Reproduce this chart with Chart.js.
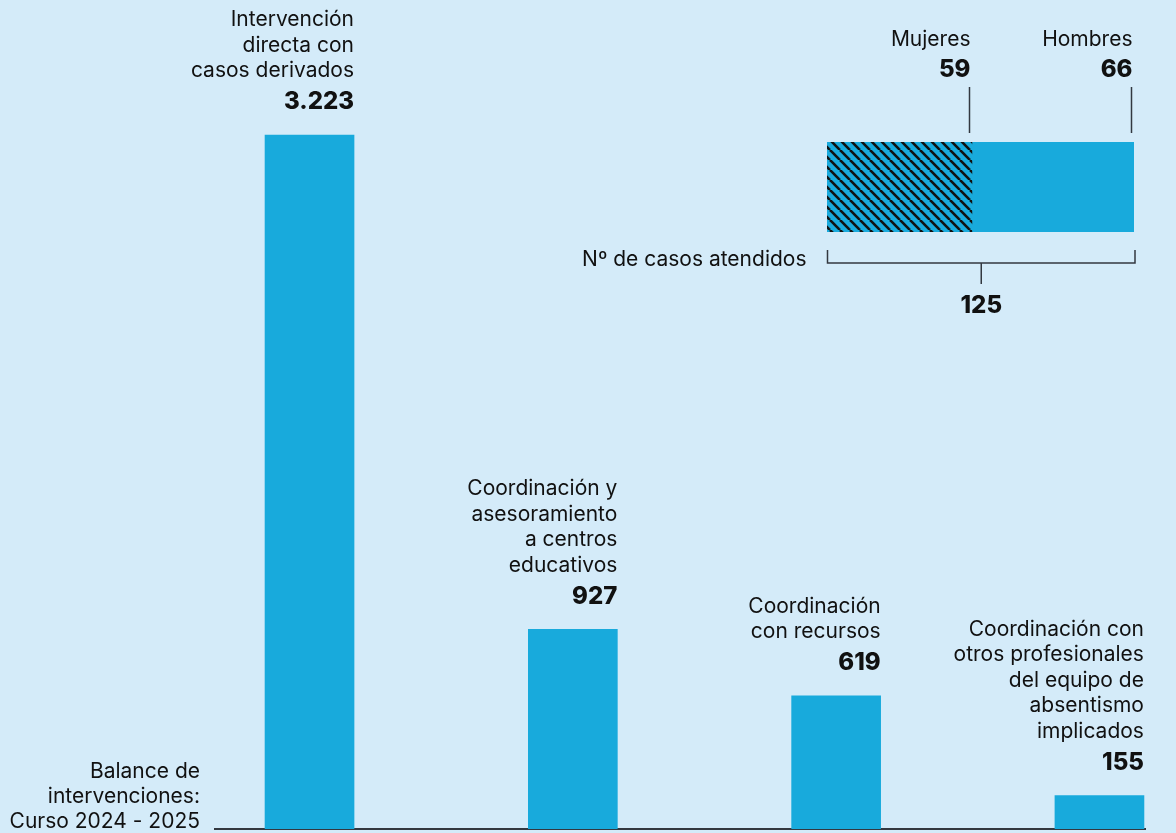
<!DOCTYPE html>
<html lang="es">
<head>
<meta charset="utf-8">
<script src="https://cdn.jsdelivr.net/npm/chart.js@4"></script>
<style>
  html, body { margin: 0; padding: 0; background: #d4ebf9; }
  #wrap { position: relative; width: 1176px; height: 833px; }
  #wrap canvas { position: absolute; left: 0; top: 0; }
</style>
</head>
<body>
<div id="wrap">
  <canvas id="barsChart" width="1176" height="833"></canvas>
  <canvas id="casesChart" width="1176" height="833"></canvas>
</div>
<script>
// Data
const categories = [
  ['Intervención', 'directa con', 'casos derivados'],
  ['Coordinación y', 'asesoramiento', 'a centros', 'educativos'],
  ['Coordinación', 'con recursos'],
  ['Coordinación con', 'otros profesionales', 'del equipo de', 'absentismo', 'implicados']
];
const interventions = [3223, 927, 619, 155];
const chartTitle = ['Balance de', 'intervenciones:', 'Curso 2024 - 2025'];

const genders = ['Mujeres', 'Hombres'];
const casesByGender = [59, 66];
const casesLabel = 'Nº de casos atendidos';

// Styles
const BAR_COLOR = '#18aadc';
const INK = '#111111';
const LINE = '#333840';
const FONT = 'Inter, Roboto, sans-serif';
const TEXT_SIZE = 21;
const NUM_SIZE = 24;

// 3223 -> 3.223
function fmt(n) {
  return String(n).replace(/\B(?=(\d{3})+(?!\d))/g, '.');
}

function hatchPattern() {
  const s = 10;
  const c = document.createElement('canvas');
  c.width = s; c.height = s;
  const g = c.getContext('2d');
  g.fillStyle = BAR_COLOR;
  g.fillRect(0, 0, s, s);
  g.strokeStyle = INK;
  g.lineWidth = 2.6;
  [-s, 0, s].forEach(x0 => {
    g.beginPath();
    g.moveTo(x0, 0);
    g.lineTo(x0 + s, s);
    g.stroke();
  });
  return g.createPattern(c, 'repeat');
}

// Labels above each bar, right aligned to the bar edge
const barLabels = {
  id: 'barLabels',
  afterDatasetsDraw(chart) {
    const ctx = chart.ctx;
    const meta = chart.getDatasetMeta(0);
    ctx.save();
    ctx.fillStyle = INK;
    ctx.textAlign = 'right';
    ctx.textBaseline = 'middle';
    meta.data.forEach((bar, i) => {
      const right = bar.x + bar.width / 2;
      const numY = bar.y - 33;
      ctx.font = `800 ${NUM_SIZE}px ${FONT}`;
      ctx.fillText(fmt(interventions[i]), right, numY);
      ctx.font = `${TEXT_SIZE}px ${FONT}`;
      const lines = categories[i];
      lines.forEach((t, k) => {
        ctx.fillText(t, right, numY - 31 - (lines.length - 1 - k) * 25.5);
      });
    });
    const area = chart.chartArea;
    ctx.font = `${TEXT_SIZE}px ${FONT}`;
    chartTitle.forEach((t, k) => {
      ctx.fillText(t, area.left - 15, area.bottom - 7 - (chartTitle.length - 1 - k) * 25);
    });
    ctx.restore();
  }
};

new Chart(document.getElementById('barsChart'), {
  type: 'bar',
  data: {
    datasets: [{
      data: interventions.map((v, i) => ({ x: i, y: v })),
      backgroundColor: BAR_COLOR,
      barThickness: 89,
      borderWidth: 0
    }]
  },
  options: {
    responsive: false,
    animation: false,
    events: [],
    layout: { padding: { left: 215, right: 31, top: 0, bottom: 4 } },
    plugins: { legend: { display: false }, tooltip: { enabled: false } },
    scales: {
      x: {
        type: 'linear',
        offset: false,
        min: -0.359,
        max: 3.173,
        grid: { display: false, drawTicks: false },
        border: { display: true, color: LINE, width: 2 },
        ticks: { display: false }
      },
      y: {
        min: 0,
        max: 3850,
        display: false
      }
    }
  },
  plugins: [barLabels]
});

// Inset: cases split by gender, with bracket for the total
const casesLabels = {
  id: 'casesLabels',
  afterDatasetsDraw(chart) {
    const ctx = chart.ctx;
    const area = chart.chartArea;
    ctx.save();
    ctx.fillStyle = INK;
    ctx.strokeStyle = LINE;
    ctx.lineWidth = 1.5;
    ctx.textBaseline = 'middle';
    chart.data.datasets.forEach((ds, i) => {
      const el = chart.getDatasetMeta(i).data[0];
      const x = Math.round(el.x) - 2.5;
      ctx.beginPath();
      ctx.moveTo(x, area.top - 55);
      ctx.lineTo(x, area.top - 9);
      ctx.stroke();
      ctx.textAlign = 'right';
      ctx.font = `${TEXT_SIZE}px ${FONT}`;
      ctx.fillText(genders[i], x + 1, area.top - 102);
      ctx.font = `800 ${NUM_SIZE}px ${FONT}`;
      ctx.fillText(fmt(casesByGender[i]), x + 1, area.top - 72);
    });
    const l = area.left + 0.5, r = area.right + 1;
    const by = area.bottom + 31;
    const mid = (l + r) / 2;
    ctx.beginPath();
    ctx.moveTo(l, area.bottom + 18);
    ctx.lineTo(l, by);
    ctx.lineTo(r, by);
    ctx.lineTo(r, area.bottom + 18);
    ctx.moveTo(mid, by);
    ctx.lineTo(mid, by + 21);
    ctx.stroke();
    ctx.textAlign = 'center';
    ctx.font = `800 ${NUM_SIZE}px ${FONT}`;
    const total = casesByGender.reduce((s, v) => s + v, 0);
    ctx.fillText(fmt(total), mid, by + 43);
    ctx.textAlign = 'right';
    ctx.font = `${TEXT_SIZE}px ${FONT}`;
    ctx.fillText(casesLabel, l - 21, by - 3);
    ctx.restore();
  }
};

new Chart(document.getElementById('casesChart'), {
  type: 'bar',
  data: {
    labels: ['casos'],
    datasets: genders.map((g, i) => ({
      label: g,
      data: [casesByGender[i]],
      backgroundColor: i === 0 ? hatchPattern() : BAR_COLOR,
      borderWidth: 0,
      barPercentage: 1,
      categoryPercentage: 1
    }))
  },
  options: {
    indexAxis: 'y',
    responsive: false,
    animation: false,
    events: [],
    layout: { padding: { left: 827, right: 42, top: 142, bottom: 601 } },
    plugins: { legend: { display: false }, tooltip: { enabled: false } },
    scales: {
      x: { stacked: true, min: 0, max: 125, display: false },
      y: { stacked: true, display: false }
    }
  },
  plugins: [casesLabels]
});
</script>
</body>
</html>
